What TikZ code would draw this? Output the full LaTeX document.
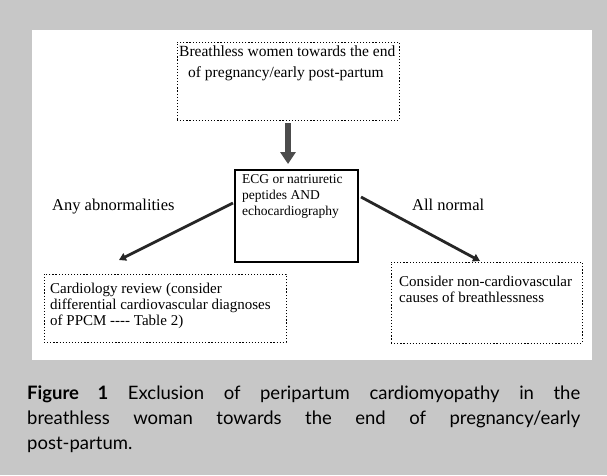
\documentclass[tikz,border=0pt]{standalone}
\usepackage{fontspec}
\setmainfont{Liberation Serif}
\newfontfamily\capfont{Lato}
\usetikzlibrary{arrows.meta}
\begin{document}
\begin{tikzpicture}[x=1pt,y=-1pt,
  dotbox/.style={draw, line width=1pt, dash pattern=on 1.2pt off 1.9pt, inner sep=0pt},
  solidbox/.style={draw, line width=1.4pt, inner sep=0pt},
  txt/.style={anchor=north west, inner sep=0pt, font=\fontsize{15}{16}\selectfont, align=left},
  midtxt/.style={anchor=north west, inner sep=0pt, font=\fontsize{13.5}{16}\selectfont, align=left},
  lbl/.style={anchor=base west, inner sep=0pt, font=\fontsize{16.5}{18}\selectfont},
  bigarrow/.style={draw=black!70, line width=5.5pt, -{Triangle[width=15pt,length=12pt]}},
  diagarrow/.style={draw=black!85, line width=2.8pt, -{Triangle[width=8pt,length=7pt]}}
]
\useasboundingbox (0,0) rectangle (607,475);
\fill[black!22] (0,0) rectangle (607,475);
\fill[white] (32,30) rectangle (592,360);

% boxes
\node[dotbox, minimum width=222pt, minimum height=78pt] (top) at (288,81) {};
\node[solidbox, fill=white, minimum width=123pt, minimum height=92pt] (mid) at (296.5,216) {};
\node[dotbox, minimum width=242pt, minimum height=68pt] (left) at (165,308) {};
\node[dotbox, minimum width=191pt, minimum height=81pt] (right) at (486.5,302.5) {};

% box texts
\node[txt, font=\fontsize{15.5}{21}\selectfont] (toptxt) at (179,46)
  {Breathless women towards the end\\\hspace*{9pt}of pregnancy/early post-partum};
\node[midtxt] (midtxt) at (242,174) {ECG or natriuretic\\peptides AND\\echocardiography};
\node[txt] (lefttxt) at (50,283) {Cardiology review (consider\\differential cardiovascular diagnoses\\of PPCM {-}{-}{-}{-} Table 2)};
\node[txt] (righttxt) at (399,276) {Consider non-cardiovascular\\causes of breathlessness};

% labels
\node[lbl] (abn) at (52,210) {Any abnormalities};
\node[lbl] (nor) at (412,210) {All normal};

% arrows
\coordinate (dstart) at (288,123);
\coordinate (dend) at (288,164);
\draw[bigarrow] (dstart) -- (dend);
\coordinate (lstart) at (233,203);
\coordinate (lend) at (119,260);
\draw[diagarrow] (lstart) -- (lend);
\coordinate (rstart) at (361,197);
\coordinate (rend) at (480,261);
\draw[diagarrow] (rstart) -- (rend);

% caption
\node[anchor=north west, inner sep=0pt, text width=553pt, align=justify,
      font=\capfont\fontsize{18.5}{25}\selectfont] (cap) at (27,386)
  {\textbf{Figure 1} Exclusion of peripartum cardiomyopathy in the\linebreak
   breathless woman towards the end of pregnancy/early\linebreak
   post-partum.};
\end{tikzpicture}
\end{document}
